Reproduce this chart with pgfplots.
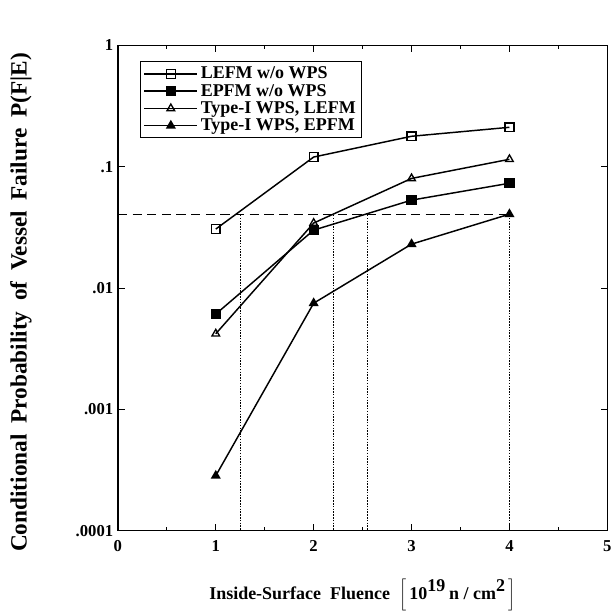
\documentclass[border=0pt]{standalone}
\usepackage{fontspec}
\setmainfont{Liberation Serif}
\usepackage{pgfplots}
\pgfplotsset{compat=1.18}

\begin{document}
\begin{tikzpicture}
    \begin{axis}[
        name=ax,
        scale only axis,
        width=367.5pt,
        height=364.5pt,
        xmin=0, xmax=5,
        ymin=1e-4, ymax=1,
        ymode=log,
        xtick={0,1,2,3,4,5},
        minor x tick num=1,
        ytick={1e-4,1e-3,1e-2,1e-1,1},
        yticklabels={.0001,.001,.01,.1,1},
        log basis y=10,
        tick align=inside,
        major tick length=5pt,
        minor tick length=3pt,
        axis line style={line width=1pt},
        tick style={line width=0.6pt, black},
        /pgf/number format/assume math mode=true,
        tick label style={font=\fontsize{12.5}{14}\selectfont\bfseries},
        xticklabel style={yshift=-4pt},
        xlabel={Inside-Surface\ \ Fluence\ \ $\left[\,\textbf{10}^{\textbf{19}}\,\textbf{n / cm}^{\textbf{2}}\,\right]$},
        xlabel style={font=\fontsize{13.5}{15}\selectfont\bfseries, at={(axis description cs:0.5,0)}, anchor=center, yshift=-48pt},
        ylabel={Conditional\hspace{0.45em}Probability\hspace{0.45em}of\hspace{0.45em}Vessel\hspace{0.45em}Failure\hspace{0.45em}P(F|E)},
        ylabel style={font=\fontsize{17.5}{19}\selectfont\bfseries, at={(axis description cs:-0.198,0.47)}, anchor=center},
        legend style={
            at={(axis cs:0.23,0.74)}, anchor=north west,
            draw=black, line width=0.8pt,
            font=\fontsize{13.5}{13.5}\selectfont\bfseries,
            row sep=-1.5pt, inner sep=2pt,
            cells={anchor=west},
        },
        legend image code/.code={
            \draw[mark repeat=2, mark phase=2] plot coordinates {(0cm,0cm) (0.7cm,0cm) (1.4cm,0cm)};
        },
        every axis plot/.append style={black, line width=1.1pt, mark size=3.3pt},
    ]

        % reference level and crossing points
        \addplot[forget plot, dashed, line width=0.8pt, dash pattern=on 7pt off 4pt] coordinates {(0,0.04) (4,0.04)};
        \addplot[forget plot, densely dotted, line width=0.8pt] coordinates {(1.255,0.04) (1.255,1e-4)};
        \addplot[forget plot, densely dotted, line width=0.8pt] coordinates {(2.20,0.04) (2.20,1e-4)};
        \addplot[forget plot, densely dotted, line width=0.8pt] coordinates {(2.55,0.04) (2.55,1e-4)};
        \addplot[forget plot, densely dotted, line width=0.8pt] coordinates {(4.0,0.04) (4.0,1e-4)};

        \addplot[mark=square, mark options={solid, fill=white, line width=1pt}] coordinates {
            (1,0.0306) (2,0.120) (3,0.178) (4,0.211)
        };
        \addlegendentry{LEFM w/o WPS}

        \addplot[mark=square*, mark options={solid, fill=black}] coordinates {
            (1,0.0061) (2,0.030) (3,0.053) (4,0.073)
        };
        \addlegendentry{EPFM w/o WPS}

        \addplot[mark=triangle, mark options={solid, fill=white, line width=1pt}] coordinates {
            (1,0.0042) (2,0.0343) (3,0.080) (4,0.115)
        };
        \addlegendentry{Type-I WPS, LEFM}

        \addplot[mark=triangle*, mark options={solid, fill=black}] coordinates {
            (1,0.000284) (2,0.0075) (3,0.023) (4,0.0406)
        };
        \addlegendentry{Type-I WPS, EPFM}
    \end{axis}
    \pgfresetboundingbox
    \path (ax.south west) ++(-88.5pt,-62pt) coordinate (bl);
    \path (ax.north east) ++(5pt,34pt) coordinate (tr);
    \path[use as bounding box] (bl) rectangle (tr);
\end{tikzpicture}
\end{document}
